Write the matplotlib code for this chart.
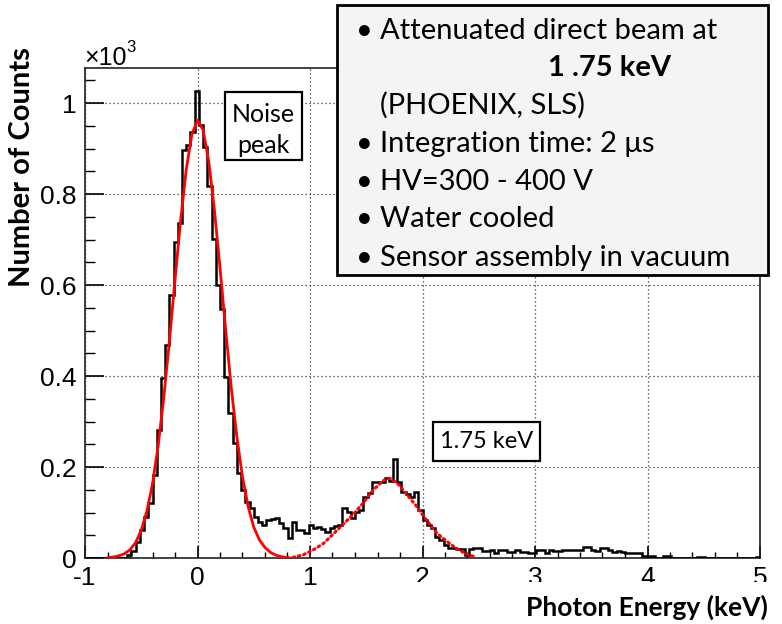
import numpy as np
import matplotlib
matplotlib.use("Agg")
import matplotlib.pyplot as plt
from matplotlib.patches import Rectangle

plt.rcParams["font.family"] = ["Liberation Sans", "DejaVu Sans"]
plt.rcParams["axes.unicode_minus"] = False

# ---------------- data ----------------
x_min, x_max, n_bins = -1.0, 5.0, 160
counts = [
    0, 0, 0, 0, 0, 0, 0, 0, 0, 0,
    7, 16, 36, 62, 90, 121, 182, 281, 396, 468,
    578, 695, 736, 897, 908, 937, 1027, 952, 903, 818,
    701, 600, 548, 398, 318, 253, 187, 149, 124, 110,
    91, 80, 73, 84, 86, 88, 77, 66, 44, 80,
    62, 62, 55, 73, 66, 68, 64, 58, 66, 70,
    73, 110, 102, 88, 102, 105, 135, 143, 168, 168,
    168, 176, 170, 218, 168, 146, 140, 135, 144, 105,
    84, 73, 66, 47, 40, 29, 21, 21, 20, 20,
    7, 20, 23, 21, 15, 15, 18, 11, 18, 18,
    14, 14, 18, 14, 14, 11, 10, 18, 18, 11,
    17, 15, 16, 17, 17, 18, 18, 17, 24, 25,
    17, 16, 22, 22, 18, 14, 16, 13, 11, 12,
    12, 10, 5, 5, 4, 1, 1, 4, 4, 0,
    0, 0, 0, 0, 0, 2, 2, 0, 0, 0,
    0, 0, 0, 0, 0, 0, 0, 0, 0, 2,
]

# noise-peak fit (solid red)
fit1_E = [-0.80, -0.75, -0.70, -0.65, -0.60, -0.55, -0.50, -0.45, -0.40, -0.35,
          -0.30, -0.25, -0.20, -0.15, -0.10, -0.05, 0.00, 0.05, 0.10, 0.15,
          0.20, 0.25, 0.30, 0.35, 0.40, 0.45, 0.50, 0.55, 0.60, 0.65,
          0.70, 0.75, 0.80]
fit1_y = [0.9, 2.0, 4.5, 9.3, 18, 34, 61, 103, 163, 246,
          352, 476, 611, 742, 854, 931, 962, 941, 872, 766,
          638, 503, 375, 266, 178, 113, 68, 40, 23, 12,
          6, 2.5, 1]

# 1.75 keV peak fit (dotted red)
fit2_E = [0.80, 0.85, 0.94, 1.03, 1.12, 1.20, 1.29, 1.38, 1.47, 1.56, 1.65,
          1.71, 1.77, 1.83, 1.89, 1.95, 2.01, 2.07, 2.13, 2.22, 2.30, 2.38, 2.46]
fit2_y = [0, 1.5, 7, 18, 32, 51, 73, 95, 120, 149, 170,
          175, 166, 149, 131, 113, 91, 73, 54, 36, 21, 10, 3]

x_ticks = [-1, 0, 1, 2, 3, 4, 5]
y_ticks = [0, 0.2, 0.4, 0.6, 0.8, 1.0]
y_tick_labels = ["0", "0.2", "0.4", "0.6", "0.8", "1"]

info_lines = ["Attenuated direct beam at", "(PHOENIX, SLS)",
              "Integration time: 2 \u03bcs", "HV=300 - 400 V",
              "Water cooled", "Sensor assembly in vacuum"]

# ---------------- figure ----------------
W, H = 782, 624
fig = plt.figure(figsize=(W / 100, H / 100), dpi=100)

def fx(px):
    return px / W

def fy(py):
    return 1 - py / H

ax_l, ax_r, ax_t, ax_b = 85, 760, 68, 558
ax = fig.add_axes([fx(ax_l), fy(ax_b), (ax_r - ax_l) / W, (ax_b - ax_t) / H])

edges = np.linspace(x_min, x_max, n_bins + 1)
ax.stairs(np.array(counts) / 1000.0, edges, color="black", lw=1.8, zorder=3,
          baseline=0)
ax.plot(fit1_E, np.array(fit1_y) / 1000.0, color="red", lw=2.0, zorder=4,
        solid_capstyle="round")
ax.plot(fit2_E, np.array(fit2_y) / 1000.0, color="red", lw=2.2, zorder=4,
        linestyle=(0, (0.6, 1.2)), dash_capstyle="round")

ax.set_xlim(x_min, x_max)
ax.set_ylim(0, 1.077)
ax.set_xticks(x_ticks)
ax.set_xticklabels([str(v) for v in x_ticks])
ax.set_xticks(np.arange(-1, 5.01, 0.2), minor=True)
ax.set_yticks(y_ticks)
ax.set_yticklabels(y_tick_labels)
ax.set_yticks(np.arange(0, 1.07, 0.05), minor=True)

ax.tick_params(axis="both", which="major", labelsize=19)
ax.tick_params(axis="x", which="major", direction="in", length=9, width=1.2, pad=6)
ax.tick_params(axis="x", which="minor", direction="in", length=4.5, width=1.0)
ax.tick_params(axis="y", which="major", direction="in", length=14, width=1.2, pad=6)
ax.tick_params(axis="y", which="minor", direction="in", length=7, width=1.0)
ax.tick_params(top=False, right=False)

ax.grid(True, which="major", color="#333333", lw=0.9, linestyle=(0, (1, 2.2)))
ax.set_axisbelow(True)
for sp in ax.spines.values():
    sp.set_linewidth(1.2)
    sp.set_color("#222222")

# x10^3 multiplier
fig.text(fx(84), fy(58), "\u00d710", fontsize=18, family="Liberation Sans",
         ha="left", va="center")
fig.text(fx(126), fy(47), "3", fontsize=12, family="Liberation Sans",
         ha="left", va="center")

# axis labels
fig.text(fx(22), fy(167), "Number of Counts", rotation=90, ha="center",
         va="center", family="Lato", fontweight="bold", fontsize=21)
fig.add_artist(Rectangle((fx(405), 0), fx(W) - fx(405), fy(582), transform=fig.transFigure,
                         facecolor="white", edgecolor="none", zorder=5))
fig.text(fx(768), fy(607), "Photon Energy (keV)", ha="right", va="center",
         family="Lato", fontweight="bold", fontsize=19, zorder=6)

# "Noise peak" box
fig.add_artist(Rectangle((fx(225), fy(160)), fx(302) - fx(225), fy(92) - fy(160),
                         transform=fig.transFigure, facecolor="white",
                         edgecolor="black", lw=1.6, zorder=5))
fig.text(fx(263.5), fy(115), "Noise", ha="center", va="center", family="Lato",
         fontsize=18, zorder=6)
fig.text(fx(263.5), fy(145), "peak", ha="center", va="center", family="Lato",
         fontsize=18, zorder=6)

# "1.75 keV" box
fig.add_artist(Rectangle((fx(433), fy(461)), fx(540) - fx(433), fy(422) - fy(461),
                         transform=fig.transFigure, facecolor="white",
                         edgecolor="black", lw=1.6, zorder=5))
fig.text(fx(487), fy(442), "1.75 keV", ha="center", va="center", family="Lato",
         fontsize=17, zorder=6)

# info box
fig.add_artist(Rectangle((fx(337), fy(275)), fx(768) - fx(337), fy(5) - fy(275),
                         transform=fig.transFigure, facecolor="#f4f4f4",
                         edgecolor="black", lw=2.0, zorder=7))
info_fs = 21
baselines = [39, 114, 152, 190, 227, 266]
bullets = [True, False, True, True, True, True]
for txt, yb, bul in zip(info_lines, baselines, bullets):
    if bul:
        fig.text(fx(356), fy(yb), "\u2022", ha="left", va="baseline", family="Lato",
                 fontsize=info_fs, zorder=8)
    fig.text(fx(380), fy(yb), txt, ha="left", va="baseline", family="Lato",
             fontsize=info_fs, zorder=8)
fig.text(fx(548), fy(76), "1 .75 keV", ha="left", va="baseline", family="Lato",
         fontweight="bold", fontsize=info_fs, zorder=8)

fig.savefig("out.png", dpi=100)
